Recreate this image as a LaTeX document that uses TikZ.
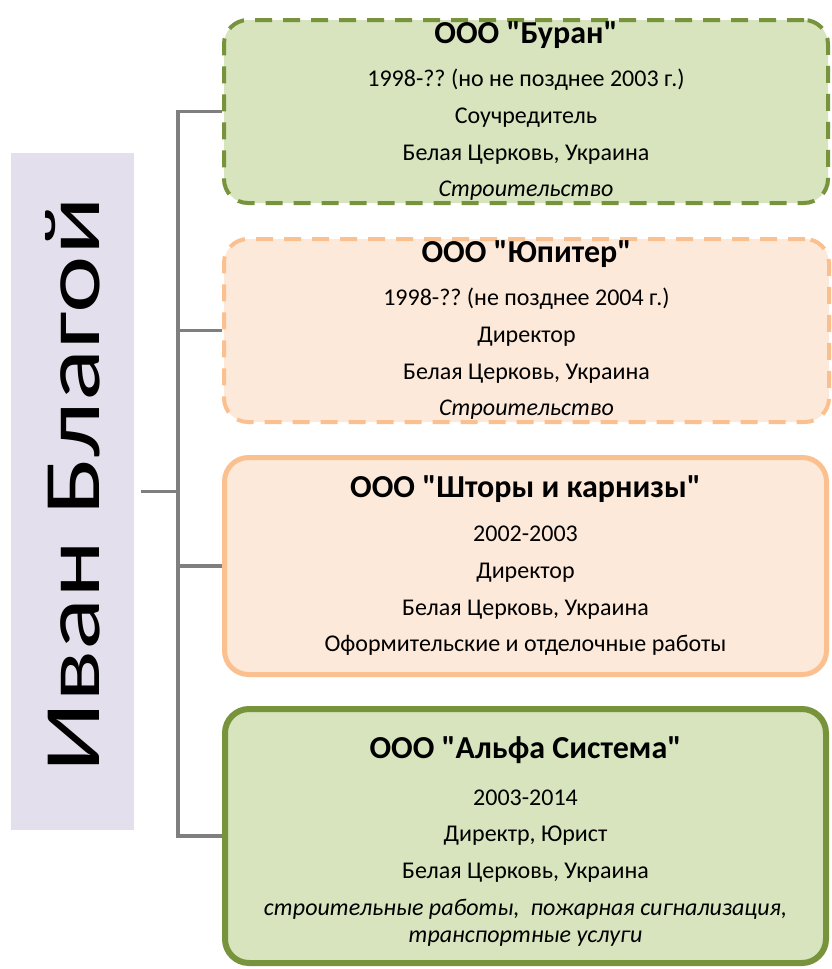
\documentclass[tikz,border=0pt]{standalone}
\usepackage{fontspec}
\setmainfont{Carlito}[Ligatures=TeXOff]
\usepackage{xcolor}
\usetikzlibrary{positioning}
\frenchspacing

\definecolor{LeafLine}{HTML}{77933C}
\definecolor{LeafFill}{HTML}{D7E4BD}
\definecolor{PeachLine}{HTML}{FAC090}
\definecolor{PeachFill}{HTML}{FDE9D9}
\definecolor{LilacFill}{HTML}{E4DFEC}
\definecolor{TreeGray}{HTML}{7F7F7F}

\begin{document}
\begin{tikzpicture}[
          % Environment Config
          x=1pt, y=-1pt,
          font=\fontsize{24}{27}\selectfont,
          OrgBox/.style={% Style for the company boxes
            draw,
            rounded corners=24pt,
            align=center,
            inner sep=0pt
          },
          LeafBox/.style={% Green box
            OrgBox,
            draw=LeafLine,
            fill=LeafFill
          },
          PeachBox/.style={% Orange box
            OrgBox,
            draw=PeachLine,
            fill=PeachFill
          },
          Unsure/.style={% Dashed border for uncertain dates
            line width=4pt,
            dash pattern=on 17pt off 11pt
          },
          Branch/.style={% Style for the tree lines
            draw=TreeGray,
            line width=3.5pt
          }
        ]

        \def\Firm#1{{\bfseries\fontsize{32}{27}\selectfont #1}}

        \useasboundingbox (0,0) rectangle (831,969);

        % Put the person in position
        \node[
            fill=LilacFill,
            minimum width=123pt,
            minimum height=677pt,
            inner sep=0pt,
            font=\fontsize{80}{90}\selectfont
          ] (Name) at (72.5,491.5)
          {\rotatebox{90}{\hspace*{13pt}\scalebox{1.36}[1]{Иван Благой}}};

        % Put the company boxes
        \node[LeafBox, Unsure, minimum width=604pt, minimum height=183pt]
          (Buran) at (526,111.5) {%
            \Firm{ООО "Буран"}\\[16pt]
            1998-?? (но не позднее 2003 г.)\\[10pt]
            Соучредитель\\[10pt]
            Белая Церковь, Украина\\[9pt]
            \textit{Строительство}};

        \node[PeachBox, Unsure, minimum width=605pt, minimum height=183pt]
          (Jupiter) at (526.5,330.5) {%
            \Firm{ООО "Юпитер"}\\[16pt]
            1998-?? (не позднее 2004 г.)\\[10pt]
            Директор\\[10pt]
            Белая Церковь, Украина\\[9pt]
            \textit{Строительство}};

        \node[PeachBox, line width=5pt, minimum width=602pt, minimum height=217pt]
          (Shtory) at (525.5,566) {%
            \Firm{ООО "Шторы и карнизы"}\\[17pt]
            2002-2003\\[10pt]
            Директор\\[10pt]
            Белая Церковь, Украина\\[9pt]
            Оформительские и отделочные работы};

        \node[LeafBox, line width=6pt, minimum width=601pt, minimum height=254pt]
          (Alfa) at (525.5,836) {%
            \rule{0pt}{33pt}\Firm{ООО "Альфа Система"}\\[20pt]
            2003-2014\\[9pt]
            Директр, Юрист\\[10pt]
            Белая Церковь, Украина\\[10pt]
            \textit{строительные работы,\ \ пожарная сигнализация,}\\
            \textit{транспортные услуги}};

        % Draw the tree
        \coordinate (Trunk) at (178,0);
        \draw[Branch]
        (Buran.west)
            -- (Buran.west -| Trunk)
            -- (Alfa.west -| Trunk)
            -- (Alfa.west)
        (Jupiter.west)
            -- (Jupiter.west -| Trunk)
        (Shtory.west)
            -- (Shtory.west -| Trunk)
        ([xshift=7pt]Name.east)
            -- (Name.east -| Trunk);

        \end{tikzpicture}
\end{document}
